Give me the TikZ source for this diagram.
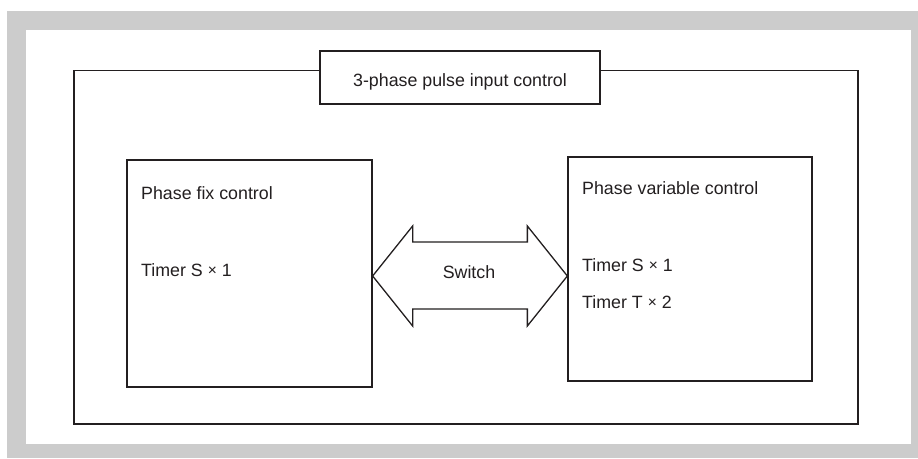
\documentclass[tikz,border=0pt]{standalone}
\usepackage{fontspec}
\setmainfont{Liberation Sans}
\usetikzlibrary{calc}
\definecolor{framegrey}{HTML}{CCCCCC}
\definecolor{ink}{HTML}{231F20}
\newcommand{\mytimes}{\raisebox{0.5pt}{\fontsize{15.5}{20}\selectfont ×}}
\begin{document}
\begin{tikzpicture}[x=1pt,y=-1pt,
  box/.style={draw=ink, line width=1.3pt, fill=white, inner sep=0pt},
  lbl/.style={text=ink, font=\fontsize{17.8}{20}\selectfont, inner sep=0pt, anchor=base west},
  clbl/.style={text=ink, font=\fontsize{17.8}{20}\selectfont, inner sep=0pt, anchor=base},
  arrowshape/.style={draw=ink, line width=1.3pt, fill=white, line join=miter},
]
\useasboundingbox (0,0) rectangle (918,458);
\fill[framegrey] (7,11) rectangle (918,458);
\fill[white] (26,30) rectangle (911,444);
% outer frame and title
\node[box, minimum width=784pt, minimum height=353.5pt] (outer) at (466,247.25) {};
\node[box, minimum width=280pt, minimum height=53pt] (title) at (460,77.5) {};
\node[clbl] (titletext) at (460,86) {3-phase pulse input control};
% left box
\node[box, minimum width=245pt, minimum height=227pt] (left) at (249.5,273.5) {};
\node[lbl] (fixname) at (141,199) {Phase fix control};
\node[lbl] (fixtimer) at (141,276) {Timer S \mytimes{} 1};
% right box
\node[box, minimum width=244pt, minimum height=224pt] (right) at (690,269) {};
\node[lbl] (varname) at (582,194) {Phase variable control};
\node[lbl] (vartimerS) at (582,271) {Timer S \mytimes{} 1};
\node[lbl] (vartimerT) at (582,308) {Timer T \mytimes{} 2};
% switch arrow
\path (left.east |- 0,276) coordinate (tipL) (right.west |- 0,276) coordinate (tipR);
\draw[arrowshape] (tipL) -- ++(40,-50) -- ++(0,16) -- ($(tipR)+(-40,-34)$) -- ++(0,-16)
  -- (tipR) -- ++(-40,50) -- ++(0,-17) -- ($(tipL)+(40,33)$) -- ++(0,17) -- cycle;
\node[clbl] (switch) at (469,278) {Switch};
\end{tikzpicture}
\end{document}
